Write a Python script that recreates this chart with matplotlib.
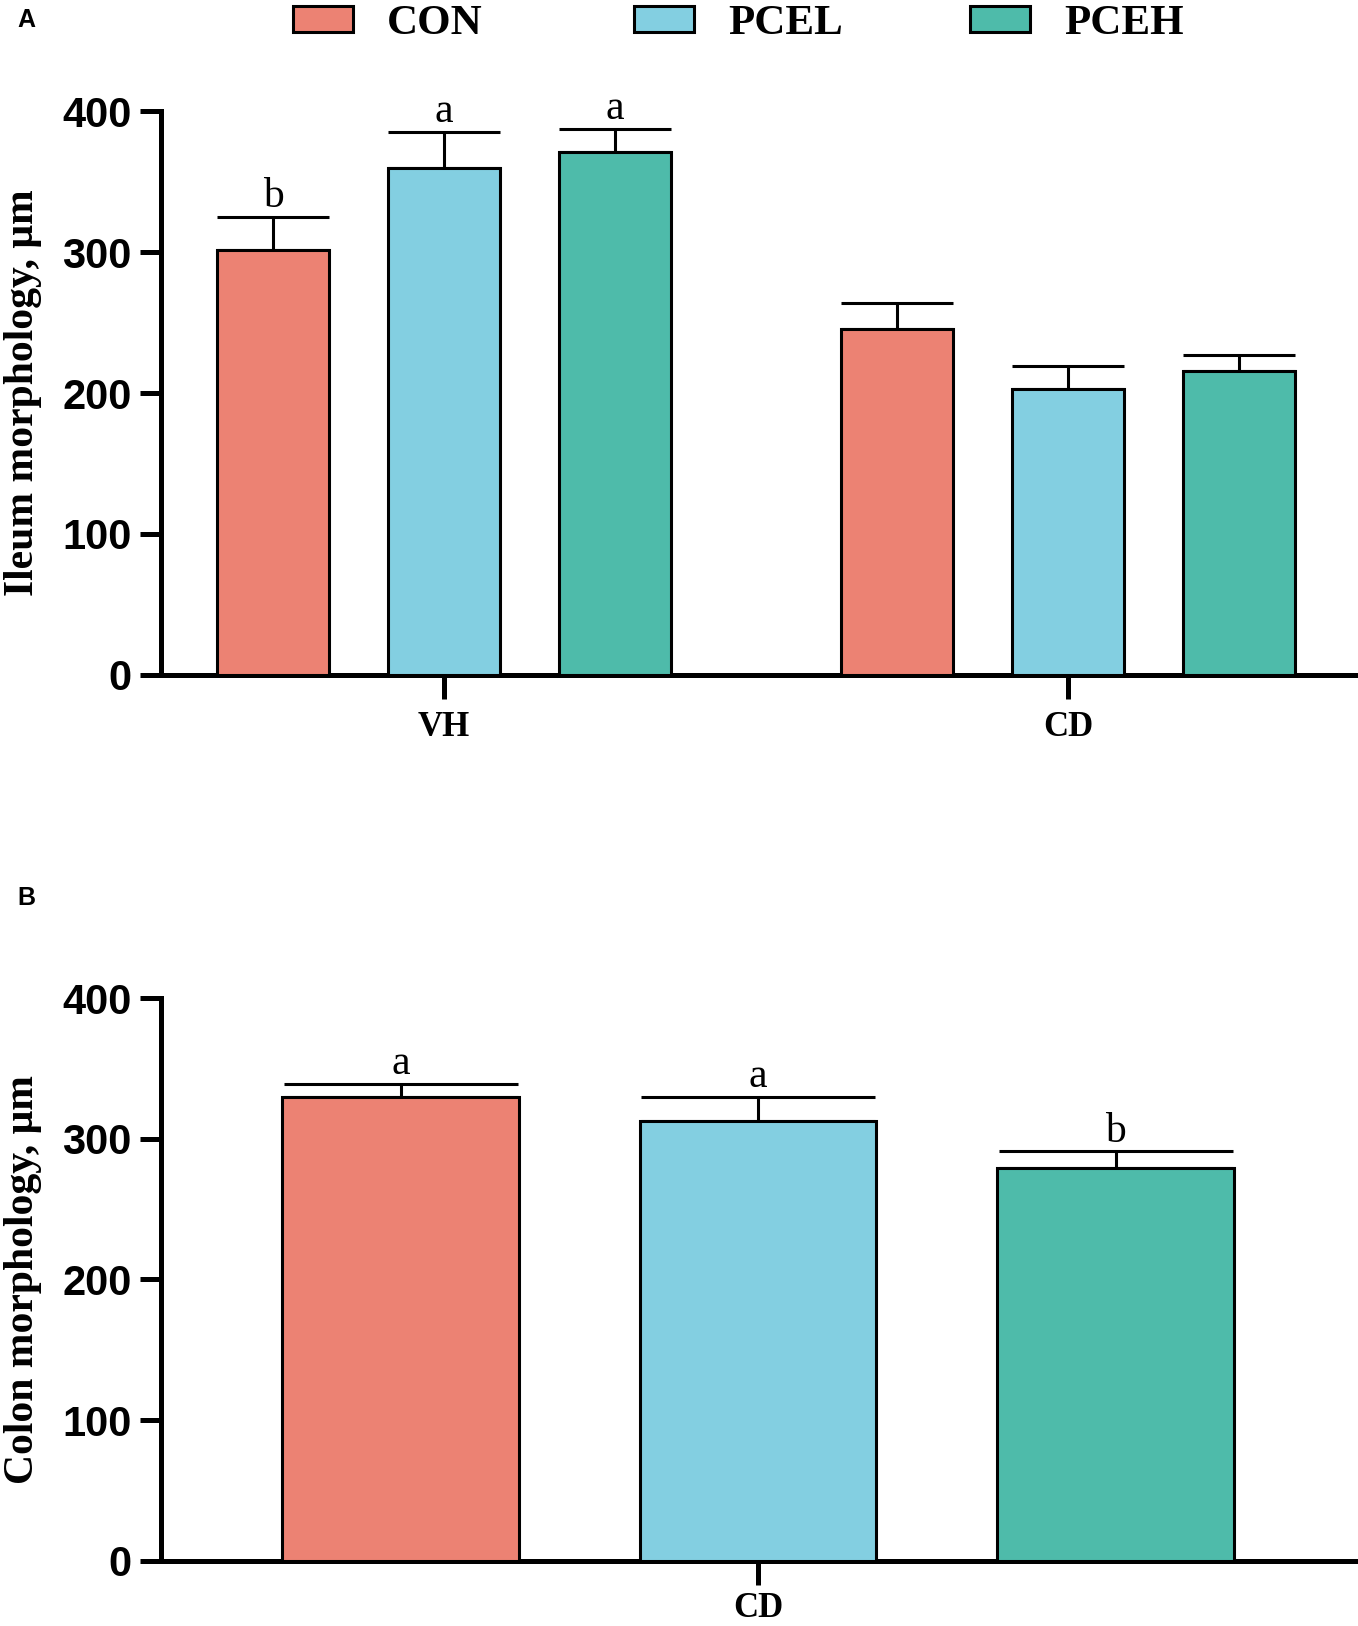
import numpy as np
import matplotlib.pyplot as plt
from matplotlib.patches import Patch

plt.rcParams['font.family'] = ['Liberation Sans', 'DejaVu Sans']

# ---- data ----
groups = ['CON', 'PCEL', 'PCEH']
colors = ['#EC8273', '#83CFE1', '#4EBBAA']

ileum_cats = ['VH', 'CD']
ileum_mean = {'CON': [301.5, 245.5], 'PCEL': [359.5, 203.0], 'PCEH': [371.0, 215.5]}
ileum_sem = {'CON': [23.5, 18.5], 'PCEL': [25.5, 16.0], 'PCEH': [16.5, 11.5]}
ileum_letters = {'CON': ['b', ''], 'PCEL': ['a', ''], 'PCEH': ['a', '']}

colon_cats = ['CD']
colon_mean = {'CON': [330.0], 'PCEL': [312.5], 'PCEH': [279.0]}
colon_sem = {'CON': [9.0], 'PCEL': [17.5], 'PCEH': [12.0]}
colon_letters = {'CON': ['a'], 'PCEL': ['a'], 'PCEH': ['b']}

yticks = [0, 100, 200, 300, 400]

serif = ['Liberation Serif', 'DejaVu Serif']


def draw_panel(ax, cats, means, sems, letters, offset, width, capsize, ylabel, xpad):
    x = np.arange(len(cats))
    for i, g in enumerate(groups):
        xs = x + (i - 1) * offset
        ax.bar(xs, means[g], width, color=colors[i], edgecolor='black',
               linewidth=2.2, zorder=3)
        ax.errorbar(xs, means[g], yerr=[np.zeros(len(cats)), sems[g]], fmt='none',
                    ecolor='black', elinewidth=2.2, capsize=capsize, capthick=2.2,
                    zorder=2)
        for xx, m, s, t in zip(xs, means[g], sems[g], letters[g]):
            if t:
                ax.text(xx, m + s + 0.5, t, ha='center', va='bottom',
                        family=serif, fontsize=30)
    ax.set_ylim(0, 400)
    ax.set_yticks(yticks)
    ax.set_xticks(x)
    ax.set_xticklabels(cats, family=serif, fontweight='bold', fontsize=25)
    for lab in ax.get_yticklabels():
        lab.set_fontweight('bold')
        lab.set_fontsize(30)
    ax.spines['top'].set_visible(False)
    ax.spines['right'].set_visible(False)
    ax.spines['left'].set_linewidth(3.6)
    ax.spines['bottom'].set_linewidth(3.6)
    ax.tick_params(axis='y', length=15, width=3.6, pad=6)
    ax.tick_params(axis='x', length=17, width=3.6, pad=xpad)
    ax.set_ylabel(ylabel, family=serif, fontweight='bold', fontsize=30)
    ax.yaxis.set_label_coords(-0.0994, 0.5)


fig = plt.figure(figsize=(13.58, 16.26), dpi=100)

axA = fig.add_axes([0.1186, 0.5849, 0.8814, 0.3468])
draw_panel(axA, ileum_cats, ileum_mean, ileum_sem, ileum_letters,
           offset=0.274, width=0.179, capsize=40, ylabel='Ileum morphology, μm', xpad=9)
axA.set_xlim(-0.4535, 1.465)

axB = fig.add_axes([0.1186, 0.04, 0.8814, 0.3462])
draw_panel(axB, colon_cats, colon_mean, colon_sem, colon_letters,
           offset=1.0, width=0.661, capsize=84, ylabel='Colon morphology, μm', xpad=5)
axB.set_xlim(-1.67, 1.678)

fig.text(0.0125, 0.988, 'A', fontsize=18, fontweight='bold', va='center')
fig.text(0.0125, 0.4477, 'B', fontsize=18, fontweight='bold', va='center')

# legend: one entry per group, spread along the top
leg_left = [0.2158, 0.4669, 0.7143]
for g, c, xl in zip(groups, colors, leg_left):
    h = Patch(facecolor=c, edgecolor='black', linewidth=2.2)
    fig.legend([h], [g], loc='center left', bbox_to_anchor=(xl, 0.985),
               frameon=False, prop={'family': serif, 'weight': 'bold', 'size': 31},
               handlelength=1.39, handleheight=0.56, handletextpad=0.8,
               borderpad=0, borderaxespad=0)

fig.savefig('out.png', dpi=100)
